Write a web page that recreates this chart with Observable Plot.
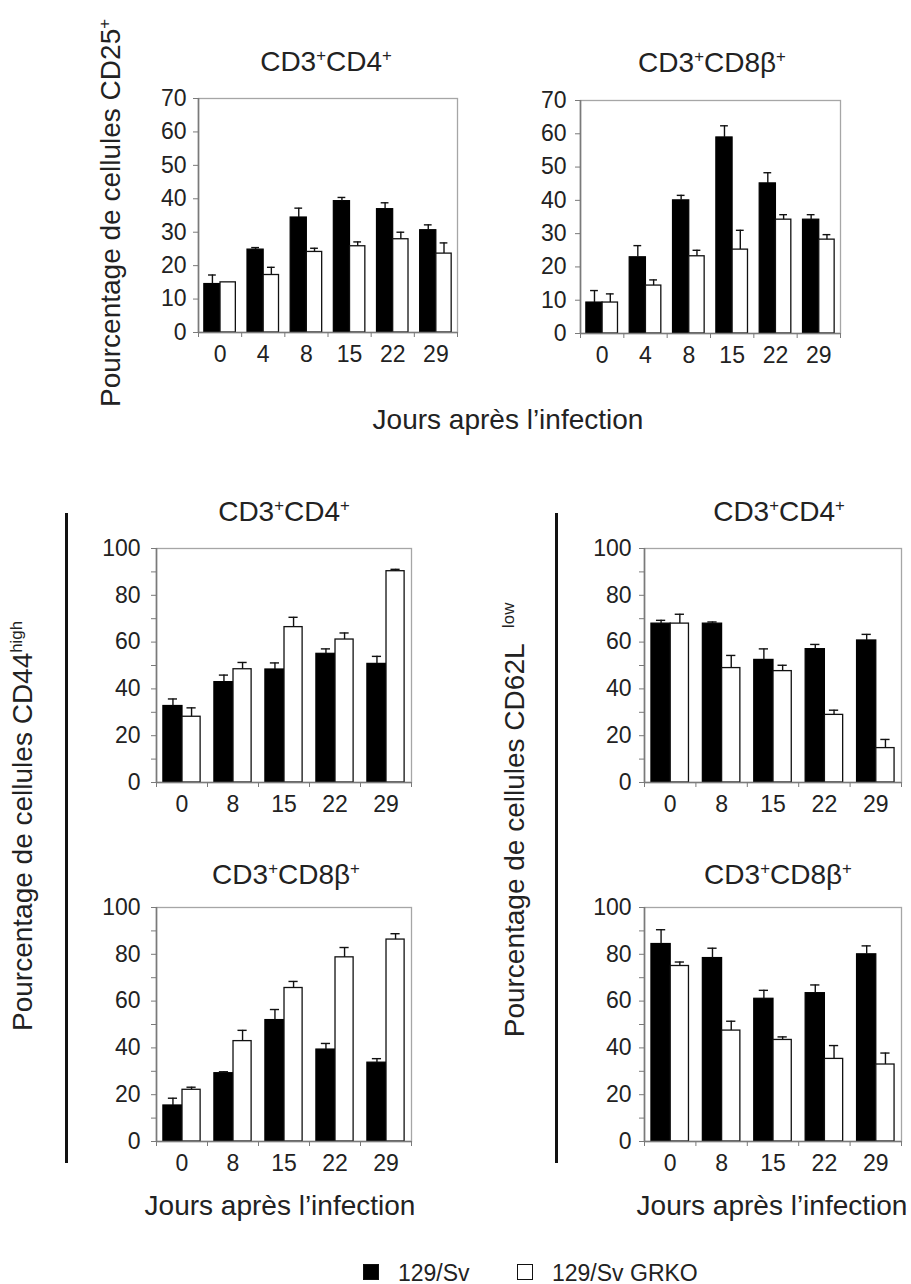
<!DOCTYPE html>
<html>
<head>
<meta charset="utf-8">
<script src="https://cdn.jsdelivr.net/npm/d3@7"></script>
<script src="https://cdn.jsdelivr.net/npm/@observablehq/plot@0.6"></script>
<style>
  body { margin: 0; background: #fff; }
  #root { position: relative; width: 911px; height: 1284px; overflow: hidden;
          font-family: "Liberation Sans", Arial, sans-serif; color: #222; background: #fff; }
  .t { position: absolute; white-space: nowrap; line-height: 1; transform: translate(-50%, -50%); }
  .r { transform: translate(-50%, -50%) rotate(-90deg); }
  .t sup { font-size: 60%; vertical-align: super; line-height: 0; }
  .vline { position: absolute; width: 3px; background: #111; }
  .sw { position: absolute; width: 16px; height: 16px; box-sizing: border-box; }
</style>
</head>
<body>
<div id="root"></div>
<script>
// ---------- data ----------
const daysA = ["0", "4", "8", "15", "22", "29"];
const daysB = ["0", "8", "15", "22", "29"];
const seriesNames = ["129/Sv", "129/Sv GRKO"];

// CD25+ , CD3+CD4+
const cd25Cd4Sv     = [14.5, 24.8, 34.4, 39.3, 36.9, 30.6];
const cd25Cd4SvErr  = [2.7, 0.6, 2.8, 1.1, 1.9, 1.6];
const cd25Cd4Ko     = [15.0, 17.2, 24.1, 25.8, 27.9, 23.6];
const cd25Cd4KoErr  = [0, 2.3, 1.1, 1.3, 2.1, 3.2];
// CD25+ , CD3+CD8b+
const cd25Cd8Sv     = [9.3, 22.9, 40.0, 58.9, 45.1, 34.2];
const cd25Cd8SvErr  = [3.6, 3.5, 1.5, 3.5, 3.2, 1.5];
const cd25Cd8Ko     = [9.3, 14.4, 23.2, 25.2, 34.2, 28.2];
const cd25Cd8KoErr  = [2.6, 1.7, 1.8, 5.8, 1.5, 1.5];
// CD44high , CD3+CD4+
const cd44Cd4Sv     = [32.7, 42.9, 48.3, 55.0, 50.7];
const cd44Cd4SvErr  = [3.0, 3.0, 2.8, 2.1, 3.2];
const cd44Cd4Ko     = [28.1, 48.4, 66.4, 61.1, 90.3];
const cd44Cd4KoErr  = [3.8, 2.9, 4.2, 2.8, 0.8];
// CD44high , CD3+CD8b+
const cd44Cd8Sv     = [15.4, 29.2, 51.9, 39.3, 33.7];
const cd44Cd8SvErr  = [3.1, 0.6, 4.5, 2.6, 1.7];
const cd44Cd8Ko     = [22.1, 42.9, 65.6, 78.7, 86.3];
const cd44Cd8KoErr  = [1.1, 4.6, 2.8, 4.2, 2.5];
// CD62Llow , CD3+CD4+
const cd62Cd4Sv     = [67.9, 67.9, 52.4, 57.0, 60.7];
const cd62Cd4SvErr  = [1.4, 0.7, 4.7, 2.0, 2.6];
const cd62Cd4Ko     = [67.9, 48.9, 47.6, 28.9, 14.7];
const cd62Cd4KoErr  = [4.0, 5.4, 2.5, 2.0, 3.7];
// CD62Llow , CD3+CD8b+
const cd62Cd8Sv     = [84.4, 78.4, 61.0, 63.4, 80.0];
const cd62Cd8SvErr  = [6.1, 4.2, 3.6, 3.5, 3.6];
const cd62Cd8Ko     = [75.0, 47.4, 43.4, 35.3, 32.9];
const cd62Cd8KoErr  = [1.7, 4.0, 1.3, 5.7, 4.9];

// ---------- layout ----------
const root = document.getElementById("root");
const FONT = '"Liberation Sans", Arial, sans-serif';

function addText(html, cx, cy, size, rotate) {
  const d = document.createElement("div");
  d.className = "t" + (rotate ? " r" : "");
  d.innerHTML = html;
  d.style.left = cx + "px";
  d.style.top = cy + "px";
  d.style.fontSize = size + "px";
  root.appendChild(d);
  return d;
}

function panel(days, sv, svErr, ko, koErr, yMax, labelEvery, frame, tickPad) {
  const [x0, x1, y0, y1] = frame;
  const mL = 70, mR = 12, mT = 12, mB = 50;
  const n = days.length;
  const rows = [];
  days.forEach((d, i) => {
    rows.push({key: "sv", x1: i + 0.135, x2: i + 0.51, v: sv[i], e: svErr[i]});
    rows.push({key: "ko", x1: i + 0.51, x2: i + 0.865, v: ko[i], e: koErr[i]});
  });
  rows.forEach(r => { r.c = (r.x1 + r.x2) / 2; r.top = r.v + r.e; });
  const errs = rows.filter(r => r.e > 0);
  const svg = Plot.plot({
    width: x1 - x0 + mL + mR,
    height: y1 - y0 + mT + mB,
    marginLeft: mL, marginRight: mR, marginTop: mT, marginBottom: mB,
    x: {type: "linear", domain: [0, n]},
    y: {domain: [0, yMax]},
    style: {fontFamily: FONT, fontSize: "23px", color: "#222", background: "transparent", overflow: "visible"},
    marks: [
      Plot.frame({stroke: "#a6a6a6", strokeWidth: 1.3}),
      Plot.rect(rows.filter(r => r.key === "sv"), {x1: "x1", x2: "x2", y1: 0, y2: "v", fill: "#000", stroke: "#000", strokeWidth: 1.2}),
      Plot.rect(rows.filter(r => r.key === "ko"), {x1: "x1", x2: "x2", y1: 0, y2: "v", fill: "#fff", stroke: "#111", strokeWidth: 1.3}),
      Plot.ruleX(errs, {x: "c", y1: "v", y2: "top", stroke: "#111", strokeWidth: 1.4}),
      Plot.ruleY(errs, {y: "top", x1: r => r.c - 0.09, x2: r => r.c + 0.09, stroke: "#111", strokeWidth: 1.4}),
      Plot.ruleX([0], {stroke: "#7a7a7a", strokeWidth: 1.6}),
      Plot.ruleY([0], {stroke: "#7a7a7a", strokeWidth: 1.6}),
      Plot.axisY({ticks: d3.range(0, yMax + 1, 10), tickSize: 5, tickPadding: tickPad, stroke: "#7a7a7a",
                  fill: "#222", fontSize: 23, tickFormat: d => (d % labelEvery === 0 ? String(d) : ""), label: null}),
      Plot.axisX({ticks: d3.range(0, n + 1), tickSize: 5, tickFormat: () => "", stroke: "#7a7a7a", label: null}),
      Plot.axisX({ticks: d3.range(n).map(i => i + 0.5), tickSize: 0, tickPadding: 13, fill: "#222", fontSize: 23,
                  tickFormat: d => days[Math.floor(d)], label: null})
    ]
  });
  svg.style.position = "absolute";
  svg.style.left = (x0 - mL) + "px";
  svg.style.top = (y0 - mT) + "px";
  root.appendChild(svg);
}

// panels
panel(daysA, cd25Cd4Sv, cd25Cd4SvErr, cd25Cd4Ko, cd25Cd4KoErr, 70, 10, [198, 457, 98, 332], 7);
panel(daysA, cd25Cd8Sv, cd25Cd8SvErr, cd25Cd8Ko, cd25Cd8KoErr, 70, 10, [580, 840, 100, 333], 9);
panel(daysB, cd44Cd4Sv, cd44Cd4SvErr, cd44Cd4Ko, cd44Cd4KoErr, 100, 20, [156, 411, 548, 782], 11);
panel(daysB, cd62Cd4Sv, cd62Cd4SvErr, cd62Cd4Ko, cd62Cd4KoErr, 100, 20, [644, 901, 548, 782], 8);
panel(daysB, cd44Cd8Sv, cd44Cd8SvErr, cd44Cd8Ko, cd44Cd8KoErr, 100, 20, [156, 411, 907, 1141], 11);
panel(daysB, cd62Cd8Sv, cd62Cd8SvErr, cd62Cd8Ko, cd62Cd8KoErr, 100, 20, [644, 901, 907, 1141], 8);

// panel titles
const tCD4 = "CD3<sup>+</sup>CD4<sup>+</sup>";
const tCD8 = "CD3<sup>+</sup>CD8β<sup>+</sup>";
addText(tCD4, 326, 62, 28);
addText(tCD8, 712, 63, 28);
addText(tCD4, 284, 512, 28);
addText(tCD4, 779, 512, 28);
addText(tCD8, 286, 875, 28);
addText(tCD8, 778, 875, 28);

// axis titles
const xTitle = "Jours après l’infection";
addText(xTitle, 508, 420, 28);
addText(xTitle, 280, 1206, 28);
addText(xTitle, 772, 1206, 28);
addText("Pourcentage de cellules CD25<sup>+</sup>", 111, 213, 28, true);
addText("Pourcentage de cellules CD44<sup>high</sup>", 23, 826, 28, true);
addText("Pourcentage de cellules CD62L&nbsp;&nbsp;<sup>low</sup>", 515, 820, 28, true);

// separator lines
[65, 555].forEach(x => {
  const l = document.createElement("div");
  l.className = "vline";
  l.style.left = x + "px";
  l.style.top = "513px";
  l.style.height = "650px";
  root.appendChild(l);
});

// legend
function legendItem(x, fill, label) {
  const s = document.createElement("div");
  s.className = "sw";
  s.style.left = x + "px";
  s.style.top = "1264px";
  s.style.background = fill;
  s.style.border = "1.5px solid #111";
  root.appendChild(s);
  const t = document.createElement("div");
  t.className = "t";
  t.style.transform = "translate(0, -50%)";
  t.style.left = (x + 35) + "px";
  t.style.top = "1273px";
  t.style.fontSize = "23px";
  t.textContent = label;
  root.appendChild(t);
}
legendItem(363, "#000", seriesNames[0]);
legendItem(517, "#fff", seriesNames[1]);
</script>
</body>
</html>
